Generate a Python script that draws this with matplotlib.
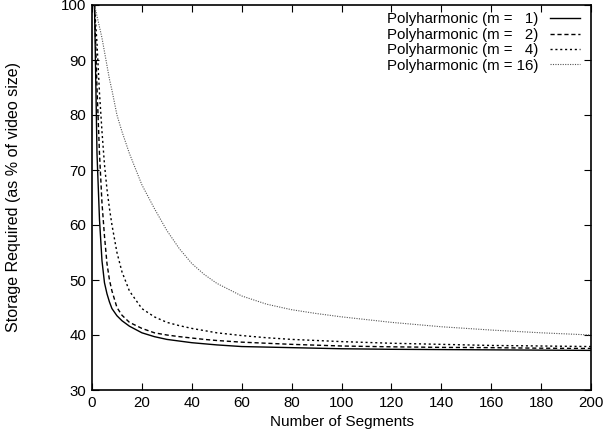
import matplotlib
matplotlib.use("Agg")
import matplotlib.pyplot as plt

plt.rcParams['font.family'] = ['Liberation Sans', 'DejaVu Sans']

segments = [1, 2, 3, 4, 5, 6, 7, 8, 10, 12, 15, 20, 25, 30, 35, 40, 45, 50, 60, 70, 80, 90, 100, 120, 140, 160, 180, 200]

m1 = [100, 73, 61, 53.5, 49.5, 47.5, 46, 44.8, 43.5, 42.6, 41.6, 40.4, 39.7, 39.2, 38.9, 38.6, 38.4, 38.2, 37.9, 37.8, 37.7, 37.6, 37.5, 37.4, 37.35, 37.3, 37.25, 37.2]
m2 = [100, 85, 73, 64, 58, 53, 50, 48, 45, 43.6, 42.3, 41.2, 40.4, 40.0, 39.7, 39.45, 39.2, 39.0, 38.7, 38.5, 38.3, 38.15, 38.0, 37.85, 37.75, 37.7, 37.6, 37.55]
m4 = [100, 93, 84, 77, 71, 66.5, 63, 60, 55, 51.5, 48, 44.8, 43.3, 42.3, 41.7, 41.2, 40.8, 40.4, 39.9, 39.5, 39.2, 39.0, 38.8, 38.5, 38.3, 38.1, 38.0, 37.9]
m16 = [100, 98, 96, 94, 91.5, 89, 86.5, 84.5, 80, 77, 73, 67.3, 63, 59, 55.7, 53.0, 51.0, 49.4, 47.1, 45.6, 44.6, 43.9, 43.3, 42.3, 41.5, 40.9, 40.4, 40.0]

labels = ["Polyharmonic (m =   1)", "Polyharmonic (m =   2)",
          "Polyharmonic (m =   4)", "Polyharmonic (m = 16)"]

xticks = list(range(0, 201, 20))
yticks = list(range(30, 101, 10))

fig = plt.figure(figsize=(6.03, 4.33), dpi=100)
ax = fig.add_axes([92/603, 1-390/433, (591-92)/603, (390-5)/433])

ax.plot(segments, m1, color='black', lw=1.0, ls='-', label=labels[0])
ax.plot(segments, m2, color='black', lw=1.0, ls=(0, (3, 2)), label=labels[1])
ax.plot(segments, m4, color='black', lw=1.0, ls=(0, (1.5, 2)), label=labels[2])
ax.plot(segments, m16, color='#555555', lw=0.8, ls=(0, (1, 1.2)), label=labels[3])

ax.set_xlim(0, 200)
ax.set_ylim(30, 100)
ax.set_xticks(xticks)
ax.set_yticks(yticks)
ax.tick_params(direction='in', length=5, width=0.8, top=True, right=True, labelsize=10.8, pad=4)
for s in ax.spines.values():
    s.set_linewidth(1.2)

ax.set_xlabel("Number of Segments", fontsize=11, labelpad=4)
ax.set_ylabel("Storage Required (as % of video size)", fontsize=11.5, labelpad=29)

leg = ax.legend(loc='upper right', bbox_to_anchor=(1 - 4/499, 1), frameon=False,
                markerfirst=False, fontsize=10.8,
                handlelength=2.0, handletextpad=0.75, labelspacing=0.09,
                borderaxespad=0.3, borderpad=0.2)

fig.savefig("out.png", dpi=100)
